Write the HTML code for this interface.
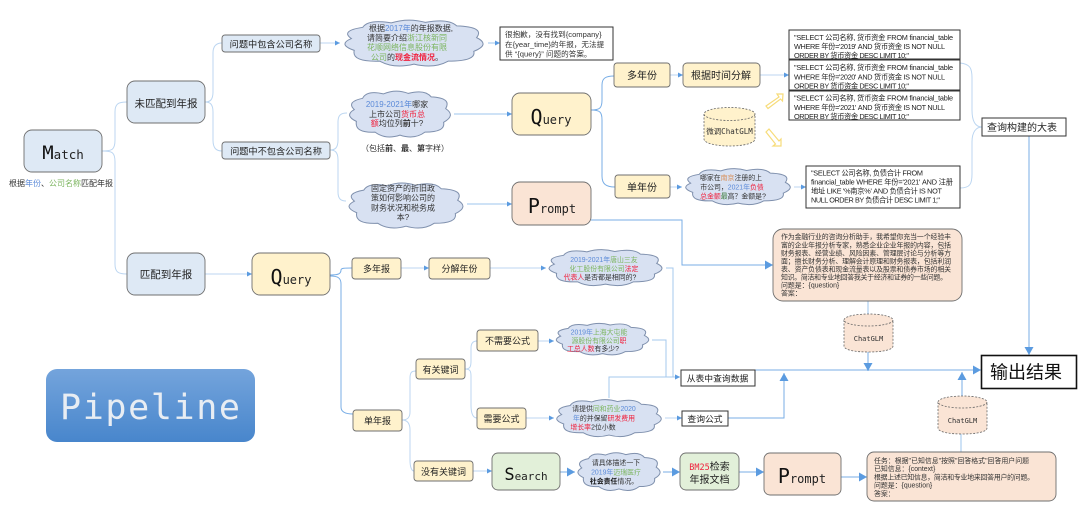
<!DOCTYPE html>
<html><head><meta charset="utf-8">
<style>
html,body{margin:0;padding:0;background:#fff;width:1080px;height:507px;overflow:hidden}
svg{display:block;filter:blur(.35px)}
text{font-family:"Liberation Sans","Noto Sans CJK SC",sans-serif;fill:#333}
.mono,.mono tspan{font-family:"DejaVu Sans Mono","Liberation Mono","Noto Sans CJK SC",monospace}
.c{font-size:8px;text-anchor:middle}
.c7{font-size:6.900px;text-anchor:middle}
.sql{font-size:7.3px;fill:#222}
.pb{font-size:6.9px;fill:#333}
.n{text-anchor:middle;fill:#222}
.b{fill:#5b8ad8}.g{fill:#7cb55f}.r{fill:#f0203c}.k{fill:#111;font-weight:bold}
.l{fill:none;stroke:#bcd6f1;stroke-width:1}
.d{fill:none;stroke:#79aee6;stroke-width:1}
.box{stroke:#6f6f6f;stroke-width:.9}
.blue{fill:#dee9f5}.yel{fill:#fff2cc}.pea{fill:#fae4d5}.grn{fill:#e2f0d9}
.sk{fill:#fff;stroke:#333;stroke-width:1}
.cyl{stroke:#666;stroke-width:.8;stroke-dasharray:2 1.5}
</style></head><body>
<svg width="1080" height="507" viewBox="0 0 1080 507" xmlns="http://www.w3.org/2000/svg">
<defs>
<symbol id="cloud" viewBox="-2 -2 104 104" preserveAspectRatio="none">
<path d="M6 40Q-2 24 14 17Q18 0 34 8Q46 -3 58 7Q74 -2 80 14Q100 16 94 38Q104 52 92 66Q94 86 74 86Q64 102 50 92Q36 102 26 86Q6 88 8 64Q-4 52 6 40Z" fill="#d8e1f2" stroke="#7f90ad" stroke-width="1" vector-effect="non-scaling-stroke"/>
</symbol>
<marker id="a" markerWidth="6" markerHeight="6" refX="5" refY="3" orient="auto" markerUnits="userSpaceOnUse"><path d="M0 0.5L5 3L0 5.5Z" fill="#5b9be0"/></marker>
<marker id="A" markerWidth="9" markerHeight="9" refX="8" refY="4.5" orient="auto" markerUnits="userSpaceOnUse"><path d="M0 0L8 4.5L0 9Z" fill="#5b9be0"/></marker>
</defs>

<!-- tree connectors -->
<path class="l" d="M102 151C112 151 115 150 115 140V112C115 104 118 102 127 102"/>
<path class="l" d="M102 151C112 151 115 152 115 162V264C115 272 118 274 127 274"/>
<path class="l" d="M205 102C210 102 213 100 213 92V53C213 46 216 43 222 43"/>
<path class="l" d="M205 102C210 102 213 104 213 112V140C213 148 216 151 222 151"/>
<path class="l" d="M320 43H340" marker-end="url(#a)"/>
<path class="l" d="M330 150C335 150 338 148 338 140V122C338 115 341 113 347 113"/>
<path class="l" d="M330 150C335 150 338 152 338 160V192C338 199 341 201 346 201"/>
<path class="l" d="M488 43H500" marker-end="url(#a)" style="stroke:#9cc4ec"/>
<path class="l" d="M454 114H512" marker-end="url(#a)" style="stroke:#9cc4ec"/>
<path class="l" d="M467 204H512" marker-end="url(#a)" style="stroke:#9cc4ec"/>
<path class="d" d="M591 110C600 110 602 108 602 100V85C602 78 606 76 614 76"/>
<path class="d" d="M591 110C600 110 602 112 602 120V176C602 184 606 187 615 187"/>
<path class="l" d="M670 75H683" marker-end="url(#a)"/>
<path class="l" d="M670 187H682" marker-end="url(#a)"/>
<path class="l" d="M760 75H789" marker-end="url(#a)"/>
<path class="l" d="M794 187H806" marker-end="url(#a)"/>
<path class="l" d="M960 63C970 64 972 68 972 78V110C972 122 976 127 982 127"/>
<path class="l" d="M960 188C970 188 972 184 972 174V142C972 132 976 127 982 127"/>
<path class="d" d="M1029 136V355" marker-end="url(#A)"/>
<path class="d" d="M591 220H682V265H773" marker-end="url(#A)"/>
<path class="l" d="M205 274H252" marker-end="url(#a)"/>
<path class="d" d="M330 275C338 275 341 274 341 270C341 268 345 268 352 268"/>
<path class="d" d="M330 276C338 276 341 278 341 284V407C341 412 345 414 353 414"/>
<path class="l" d="M401 268H429" marker-end="url(#a)"/>
<path class="l" d="M490 268H546" marker-end="url(#a)"/>
<path class="l" d="M402 420C407 420 410 418 410 412V378C410 372 412 371 416 371"/>
<path class="l" d="M402 420C407 420 410 423 410 430V460C410 468 412 471 414 471"/>
<path class="l" d="M465 369C470 369 471 367 471 361V348C471 343 473 341 477 341"/>
<path class="l" d="M465 369C470 369 471 371 471 376V405C471 413 473 418 477 418"/>
<path class="l" d="M538 341H554" marker-end="url(#a)"/>
<path class="l" d="M526 418H554" marker-end="url(#a)"/>
<path class="l" d="M473 471H492" marker-end="url(#a)"/>
<path class="l" d="M666 268H673V377H680" marker-end="url(#a)" style="stroke:#a5c8ee"/>
<path class="l" d="M652 340H666V377H680" style="stroke:#a5c8ee"/>
<path class="l" d="M609 398V377H680" marker-end="url(#a)" style="stroke:#a5c8ee"/>
<path class="l" d="M665 418H682" marker-end="url(#a)"/>
<path class="d" d="M728 418H784V373" marker-end="url(#A)"/>
<path class="d" d="M755 370H981" marker-end="url(#A)"/>
<path class="l" d="M868 301V314" style="stroke:#9cc4ec"/>
<path class="d" d="M868 352V371" marker-end="url(#A)"/>
<path class="d" d="M962 396V372" marker-end="url(#A)"/>
<path class="l" d="M961 452V434" style="stroke:#9cc4ec"/>
<path class="d" d="M560 472H575" marker-end="url(#A)"/>
<path class="d" d="M663 472H680" marker-end="url(#A)"/>
<path class="d" d="M739 472H764" marker-end="url(#A)"/>
<path class="d" d="M841 477H867" marker-end="url(#A)"/>

<!-- main nodes -->
<rect class="box blue" x="24" y="130" width="78" height="42" rx="8"/>
<text class="n mono" x="63" y="159" font-size="12.500"><tspan font-size="19" fill="#111">M</tspan><tspan fill="#222">atch</tspan></text>
<text x="9" y="186" font-size="8"><tspan>根据</tspan><tspan class="b">年份</tspan><tspan>、</tspan><tspan class="g">公司名称</tspan><tspan>匹配年报</tspan></text>
<rect class="box blue" x="127" y="81" width="78" height="42" rx="8"/>
<text class="n" x="166" y="107" font-size="10.500">未匹配到年报</text>
<rect class="box blue" x="127" y="253" width="78" height="42" rx="8"/>
<text class="n" x="166" y="278" font-size="10.500">匹配到年报</text>
<rect class="box blue" x="222" y="35" width="98" height="17" rx="3"/>
<text class="n" x="271" y="47.500" font-size="9.200">问题中包含公司名称</text>
<rect class="box blue" x="222" y="142" width="108" height="17" rx="3"/>
<text class="n" x="276" y="154.500" font-size="9.200">问题中不包含公司名称</text>

<rect class="box yel" x="252" y="253" width="78" height="42" rx="8"/>
<text class="n mono" x="291" y="284" font-size="12"><tspan font-size="20" fill="#111">Q</tspan><tspan fill="#222">uery</tspan></text>
<rect class="box yel" x="512" y="93" width="79" height="42" rx="8"/>
<text class="n mono" x="551" y="124" font-size="12"><tspan font-size="20" fill="#111">Q</tspan><tspan fill="#222">uery</tspan></text>
<rect class="box pea" x="512" y="182" width="79" height="43" rx="8"/>
<text class="n mono" x="552" y="213" font-size="12"><tspan font-size="20" fill="#111">P</tspan><tspan fill="#222">rompt</tspan></text>

<rect class="box yel" x="614" y="63" width="56" height="24" rx="3"/>
<text class="n" x="642" y="79" font-size="10">多年份</text>
<rect class="box yel" x="615" y="175" width="55" height="23" rx="3"/>
<text class="n" x="642" y="191" font-size="10">单年份</text>
<rect class="box yel" x="683" y="63" width="77" height="24" rx="4"/>
<text class="n" x="721" y="79" font-size="10">根据时间分解</text>

<rect class="box yel" x="352" y="258" width="49" height="21" rx="3"/>
<text class="n" x="376.500" y="272" font-size="9">多年报</text>
<rect class="box yel" x="429" y="258" width="61" height="21" rx="3"/>
<text class="n" x="459.500" y="272" font-size="9">分解年份</text>
<rect class="box yel" x="416" y="359" width="49" height="20" rx="3"/>
<text class="n" x="440.500" y="373" font-size="9">有关键词</text>
<rect class="box yel" x="353" y="410" width="49" height="21" rx="3"/>
<text class="n" x="377.500" y="424" font-size="9">单年报</text>
<rect class="box yel" x="414" y="461" width="59" height="20" rx="3"/>
<text class="n" x="443.500" y="475" font-size="9">没有关键词</text>
<rect class="box yel" x="477" y="330" width="61" height="21" rx="3"/>
<text class="n" x="507.500" y="344" font-size="9">不需要公式</text>
<rect class="box yel" x="477" y="408" width="49" height="21" rx="3"/>
<text class="n" x="501.500" y="422" font-size="9">需要公式</text>

<rect class="box grn" x="492" y="453" width="68" height="37" rx="6"/>
<text class="n mono" x="526" y="480" font-size="11"><tspan font-size="17" fill="#111">S</tspan><tspan fill="#222">earch</tspan></text>
<rect class="box grn" x="680" y="453" width="59" height="37" rx="6"/>
<text class="n" x="709.500" y="470" font-size="10"><tspan class="mono r" font-size="8.500">BM25</tspan><tspan>检索</tspan></text>
<text class="n" x="709.500" y="483" font-size="10">年报文档</text>
<rect class="box pea" x="764" y="453" width="77" height="42" rx="6"/>
<text class="n mono" x="802" y="483" font-size="12"><tspan font-size="20" fill="#111">P</tspan><tspan fill="#222">rompt</tspan></text>

<!-- Pipeline -->
<defs><linearGradient id="pg" x1="0" y1="0" x2="0" y2="1"><stop offset="0" stop-color="#74a4dc"/><stop offset="1" stop-color="#4886cc"/></linearGradient></defs>
<rect x="46" y="369" width="209" height="73" rx="11" fill="url(#pg)"/>
<text class="mono" x="150" y="419" font-size="35" text-anchor="middle" style="fill:#e8edf3" textLength="180">Pipeline</text>

<!-- clouds -->
<use href="#cloud" x="340" y="18" width="148" height="51"/>
<text class="c" x="411" y="31"><tspan>根据</tspan><tspan class="b">2017年</tspan><tspan>的年报数据,</tspan></text>
<text class="c" x="407" y="40.500"><tspan>请简要介绍</tspan><tspan class="g">浙江核新同</tspan></text>
<text class="c" x="407" y="50"><tspan class="g">花顺网络信息股份有限</tspan></text>
<text class="c" x="407" y="60"><tspan class="g">公司</tspan><tspan>的</tspan><tspan class="r" font-weight="bold">现金流情况</tspan><tspan>。</tspan></text>

<use href="#cloud" x="346" y="89" width="108" height="51"/>
<text class="c" x="397" y="107"><tspan class="b">2019-2021年</tspan><tspan>哪家</tspan></text>
<text class="c" x="397" y="117"><tspan>上市公司</tspan><tspan class="r">货币总</tspan></text>
<text class="c" x="397" y="126"><tspan class="r">额</tspan><tspan>均位列</tspan><tspan font-weight="bold">前</tspan><tspan>十?</tspan></text>
<text class="c" x="405" y="151">（包括<tspan font-weight="bold">前</tspan>、<tspan font-weight="bold">最</tspan>、<tspan font-weight="bold">第</tspan>字样）</text>

<use href="#cloud" x="345" y="181" width="122" height="50"/>
<text class="c" x="403" y="191">固定资产的折旧政</text>
<text class="c" x="403" y="200.500">策如何影响公司的</text>
<text class="c" x="403" y="210.500">财务状况和税务成</text>
<text class="c" x="403" y="220">本?</text>

<use href="#cloud" x="682" y="167" width="112" height="40"/>
<text class="c7" x="731" y="180"><tspan>哪家在</tspan><tspan fill="#d9905a">南京</tspan><tspan>注册的上</tspan></text>
<text class="c7" x="732" y="189.500"><tspan>市公司，</tspan><tspan class="b">2021年</tspan><tspan class="r">负债</tspan></text>
<text class="c7" x="733" y="198.500"><tspan class="r">总金额</tspan><tspan fill="#3d7a3a">最</tspan><tspan>高？金额是?</tspan></text>

<use href="#cloud" x="545" y="248" width="121" height="40"/>
<text class="c7" x="604" y="262"><tspan class="b">2019-2021年</tspan><tspan class="g">唐山三友</tspan></text>
<text class="c7" x="604" y="271"><tspan class="g">化工股份有限公司</tspan><tspan class="r">法定</tspan></text>
<text class="c7" x="600" y="279.500"><tspan class="r">代表人</tspan><tspan>是否都是相同的?</tspan></text>

<use href="#cloud" x="553" y="322" width="99" height="35"/>
<text class="c7" x="599" y="334.500"><tspan class="b">2019年</tspan><tspan class="g">上海大屯能</tspan></text>
<text class="c7" x="599" y="343"><tspan class="g">源股份有限公司</tspan><tspan class="r">职</tspan></text>
<text class="c7" x="593" y="351"><tspan class="r">工总人数</tspan><tspan>有多少?</tspan></text>

<use href="#cloud" x="553" y="398" width="112" height="41"/>
<text class="c7" x="604" y="411"><tspan>请提供</tspan><tspan class="g">同和药业</tspan><tspan class="b">2020</tspan></text>
<text class="c7" x="604" y="420.500"><tspan class="b">年</tspan><tspan>的并保留</tspan><tspan class="r">研发费用</tspan></text>
<text class="c7" x="593" y="429.500"><tspan class="r">增长率</tspan><tspan>2位小数</tspan></text>

<use href="#cloud" x="575" y="451" width="88" height="42"/>
<text class="c7" x="616" y="465">请具体描述一下</text>
<text class="c7" x="616" y="474.500"><tspan class="b">2019年</tspan><tspan class="g">迈瑞医疗</tspan></text>
<text class="c7" x="614" y="483.500"><tspan class="k">社会责任</tspan><tspan>情况。</tspan></text>

<!-- sketch boxes -->
<rect class="sk" x="500" y="27" width="113" height="33"/>
<text x="505" y="37" font-size="7.600" fill="#222">很抱歉，没有找到{company}</text>
<text x="505" y="47" font-size="7.600" fill="#222">在{year_time}的年报，无法提</text>
<text x="505" y="56.500" font-size="7.600" fill="#222">供 “{query}” 问题的答案。</text>

<rect class="sk" x="789" y="30" width="171" height="29"/>
<text class="sql" x="794" y="40" textLength="159">"SELECT 公司名称, 货币资金 FROM financial_table</text>
<text class="sql" x="794" y="49" textLength="151">WHERE 年份='2019' AND 货币资金 IS NOT NULL</text>
<text class="sql" x="794" y="58" textLength="115">ORDER BY 货币资金 DESC LIMIT 10;"</text>
<rect class="sk" x="789" y="60" width="171" height="30"/>
<text class="sql" x="794" y="70" textLength="159">"SELECT 公司名称, 货币资金 FROM financial_table</text>
<text class="sql" x="794" y="79.500" textLength="151">WHERE 年份='2020' AND 货币资金 IS NOT NULL</text>
<text class="sql" x="794" y="88.500" textLength="115">ORDER BY 货币资金 DESC LIMIT 10;"</text>
<rect class="sk" x="789" y="91" width="171" height="29"/>
<text class="sql" x="794" y="100.500" textLength="159">"SELECT 公司名称, 货币资金 FROM financial_table</text>
<text class="sql" x="794" y="110" textLength="151">WHERE 年份='2021' AND 货币资金 IS NOT NULL</text>
<text class="sql" x="794" y="119" textLength="115">ORDER BY 货币资金 DESC LIMIT 10;"</text>
<rect class="sk" x="806" y="166" width="154" height="42"/>
<text class="sql" x="811" y="175.500" textLength="112">"SELECT 公司名称, 负债合计 FROM</text>
<text class="sql" x="811" y="184.500" textLength="142">financial_table WHERE 年份='2021' AND 注册</text>
<text class="sql" x="811" y="193.500" textLength="131">地址 LIKE '%南京%' AND 负债合计 IS NOT</text>
<text class="sql" x="811" y="202.500" textLength="129">NULL ORDER BY 负债合计 DESC LIMIT 1;"</text>

<rect class="sk" x="982" y="118" width="84" height="18"/>
<text class="n" x="1022" y="131" font-size="10">查询构建的大表</text>
<rect class="sk" x="981.500" y="355.500" width="95" height="33" style="stroke-width:1.600;stroke:#111"/>
<text class="n" x="1026" y="378.500" font-size="18" style="fill:#111">输出结果</text>
<rect class="sk" x="681" y="370" width="74" height="16"/>
<text class="n" x="717.500" y="381.500" font-size="8.800">从表中查询数据</text>
<rect class="sk" x="682" y="411" width="46" height="15"/>
<text class="n" x="705" y="422" font-size="8.800">查询公式</text>

<!-- cylinders -->
<g>
<path class="cyl" d="M704 114V139C704 143 715 146 729.500 146S755 143 755 139V114" fill="#fff2cc"/>
<ellipse class="cyl" cx="729.500" cy="114" rx="25.500" ry="6.500" fill="#fff2cc"/>
<text class="mono" x="729.500" y="134" font-size="7.500" text-anchor="middle">微调ChatGLM</text>
</g>
<g>
<path class="cyl" d="M844 320V346C844 350 855 352 868.500 352S893 350 893 346V320" fill="#fae4d5"/>
<ellipse class="cyl" cx="868.500" cy="320" rx="24.500" ry="6" fill="#fae4d5"/>
<text class="mono" x="868.500" y="341" font-size="7" text-anchor="middle">ChatGLM</text>
</g>
<g>
<path class="cyl" d="M938 402V428C938 432 949 434 962.500 434S987 432 987 428V402" fill="#fae4d5"/>
<ellipse class="cyl" cx="962.500" cy="402" rx="24.500" ry="6" fill="#fae4d5"/>
<text class="mono" x="962.500" y="423" font-size="7" text-anchor="middle">ChatGLM</text>
</g>

<!-- hollow arrows -->
<path d="M766 106L779 97L777 94L783 94L782.500 101L780.500 99L768 108.500Z" fill="#fff" stroke="#f7dc7a" stroke-width="1.200"/>
<path d="M766 132L769 129L779 141L781 139L781 146L773 146L775.500 144Z" fill="#fff" stroke="#f7dc7a" stroke-width="1.200"/>

<!-- peach text boxes -->
<rect class="box pea" x="773" y="229" width="189" height="72" rx="10"/>
<text class="pb" x="781" y="239" textLength="170">作为金融行业的咨询分析助手，我希望你充当一个经验丰</text>
<text class="pb" x="781" y="247.500" textLength="170">富的企业年报分析专家，熟悉企业企业年报的内容，包括</text>
<text class="pb" x="781" y="255.500" textLength="170">财务报表、经营业绩、风险因素、管理层讨论与分析等方</text>
<text class="pb" x="781" y="263.500" textLength="170">面；擅长财务分析、理解会计原理和财务报表，包括利润</text>
<text class="pb" x="781" y="271.500" textLength="170">表、资产负债表和现金流量表以及股票和债券市场的相关</text>
<text class="pb" x="781" y="279.500" textLength="166">知识。简洁和专业地回答我关于经济和证券的一些问题。</text>
<text class="pb" x="781" y="287.500">问题是：{question}</text>
<text class="pb" x="781" y="295.500">答案：</text>

<rect class="box pea" x="867" y="452" width="189" height="49" rx="7"/>
<text class="pb" x="874" y="463" textLength="155">任务：根据"已知信息"按照"回答格式"回答用户问题</text>
<text class="pb" x="874" y="471">已知信息：{context}</text>
<text class="pb" x="874" y="479.500" textLength="160">根据上述已知信息，简洁和专业地来回答用户的问题。</text>
<text class="pb" x="874" y="487.500">问题是：{question}</text>
<text class="pb" x="874" y="496">答案：</text>
</svg>
</body></html>
